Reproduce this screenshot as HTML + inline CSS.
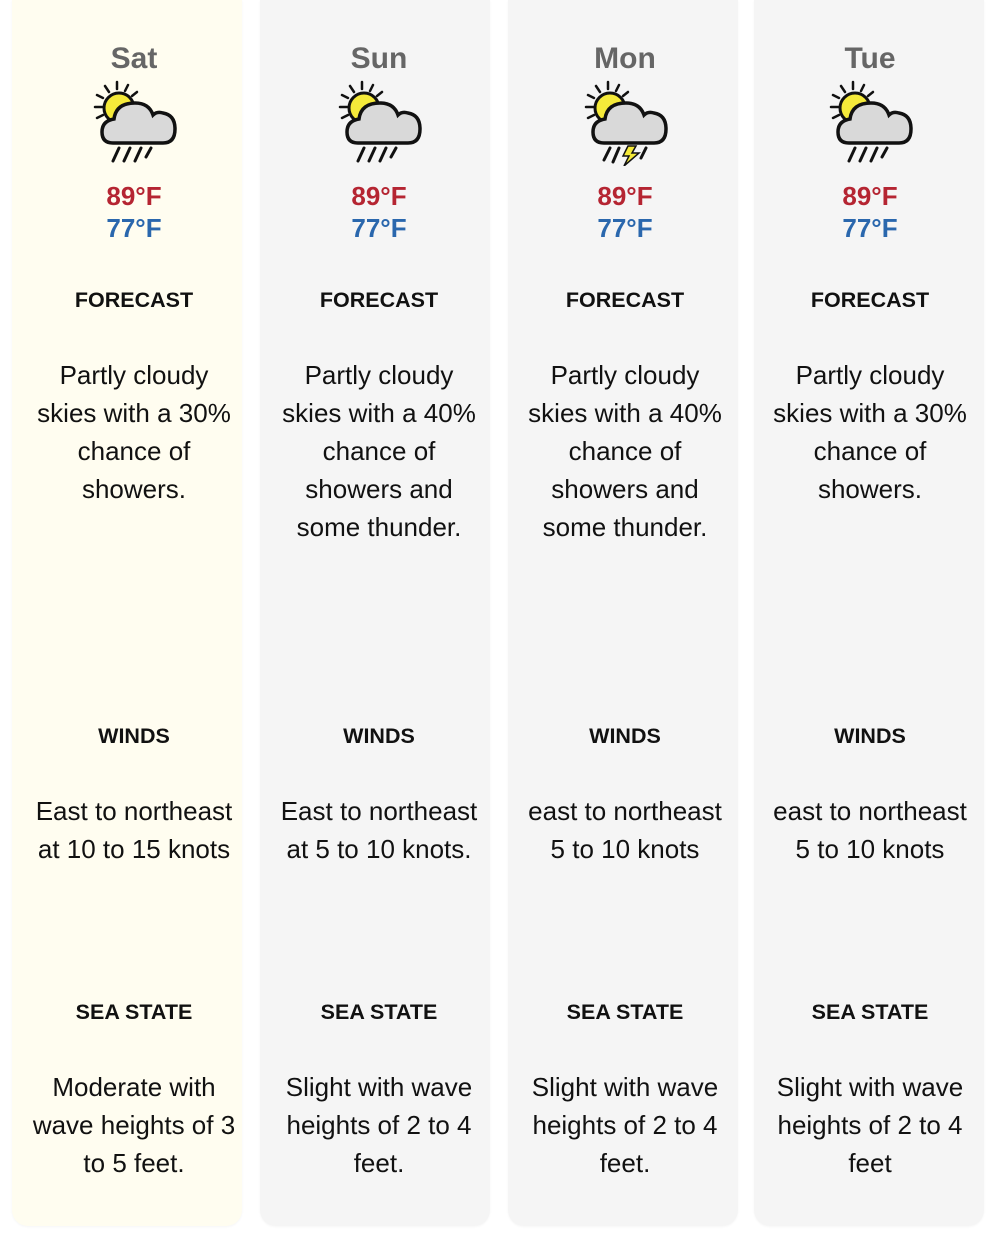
<!DOCTYPE html>
<html><head><meta charset="utf-8"><style>
*{margin:0;padding:0;box-sizing:border-box}
body{width:1008px;height:1254px;background:#fff;position:relative;overflow:hidden;font-family:"Liberation Sans",Arial,sans-serif;color:#111}
.col{position:absolute;top:0;width:230px;height:1226px;background:#f5f5f5;border-radius:0 0 16px 16px;box-shadow:0 1px 2px rgba(0,0,0,0.04)}
.col.hl{background:#fffdf0}
.t{position:absolute;left:var(--o);width:100%;text-align:center;white-space:nowrap}
.day{top:40px;font-size:30px;font-weight:bold;color:#666;line-height:38px}
.hi{top:181px;font-size:26px;font-weight:bold;color:#b52532;line-height:30px}
.lo{top:213px;font-size:26px;font-weight:bold;color:#2a67ad;line-height:30px}
.h{font-size:21.5px;font-weight:bold;line-height:24px}
.b{font-size:26px;line-height:38px}
.ic{position:absolute;left:calc(74px + var(--o));top:80px}
</style></head><body>
<svg width="0" height="0" style="position:absolute"><defs>
<g id="sun"><g stroke="#111" stroke-width="2.5" stroke-linecap="round">
<line x1="24" y1="2" x2="24" y2="9"/><line x1="12" y1="6" x2="16" y2="12"/><line x1="35" y1="5" x2="32" y2="11"/><line x1="4" y1="15" x2="10" y2="18"/><line x1="2" y1="27" x2="9" y2="27"/><line x1="4" y1="38" x2="10" y2="35"/><line x1="44" y1="12" x2="39" y2="16"/></g>
<circle cx="26" cy="28" r="15" fill="#f5ea3a" stroke="#111" stroke-width="3"/></g>
<g id="cloud"><path d="M20 63 Q9 63 9 52 Q9 41 21 39 Q23 23 42 23 Q56 23 60 35 Q64 31 70 33 Q82 35 82 49 Q82 63 70 63 Z" fill="#d9d9d9" stroke="#111" stroke-width="3.5"/></g>
</defs></svg>

<div class="col hl" style="left:12px;--o:7px">
<div class="t day">Sat</div>
<svg class="ic" width="92" height="84" viewBox="0 0 92 84"><use href="#sun"/><use href="#cloud"/><g stroke="#111" stroke-width="3" stroke-linecap="round"><line x1="26" y1="68" x2="20" y2="81"/><line x1="37" y1="68" x2="31" y2="81"/><line x1="48" y1="68" x2="42" y2="81"/><line x1="58" y1="68" x2="53" y2="77"/></g></svg>
<div class="t hi">89°F</div><div class="t lo">77°F</div>
<div class="t h" style="top:288px">FORECAST</div>
<div class="t b" style="top:356px">Partly cloudy<br>skies with a 30%<br>chance of<br>showers.</div>
<div class="t h" style="top:724px">WINDS</div>
<div class="t b" style="top:792px">East to northeast<br>at 10 to 15 knots</div>
<div class="t h" style="top:1000px">SEA STATE</div>
<div class="t b" style="top:1068px">Moderate with<br>wave heights of 3<br>to 5 feet.</div>
</div>

<div class="col" style="left:260px;--o:4px">
<div class="t day">Sun</div>
<svg class="ic" width="92" height="84" viewBox="0 0 92 84"><use href="#sun"/><use href="#cloud"/><g stroke="#111" stroke-width="3" stroke-linecap="round"><line x1="26" y1="68" x2="20" y2="81"/><line x1="37" y1="68" x2="31" y2="81"/><line x1="48" y1="68" x2="42" y2="81"/><line x1="58" y1="68" x2="53" y2="77"/></g></svg>
<div class="t hi">89°F</div><div class="t lo">77°F</div>
<div class="t h" style="top:288px">FORECAST</div>
<div class="t b" style="top:356px">Partly cloudy<br>skies with a 40%<br>chance of<br>showers and<br>some thunder.</div>
<div class="t h" style="top:724px">WINDS</div>
<div class="t b" style="top:792px">East to northeast<br>at 5 to 10 knots.</div>
<div class="t h" style="top:1000px">SEA STATE</div>
<div class="t b" style="top:1068px">Slight with wave<br>heights of 2 to 4<br>feet.</div>
</div>

<div class="col" style="left:508px;--o:2px">
<div class="t day">Mon</div>
<svg class="ic" width="92" height="86" viewBox="0 0 92 86"><use href="#sun"/><use href="#cloud"/><g stroke="#111" stroke-width="3" stroke-linecap="round"><line x1="26" y1="68" x2="20" y2="80"/><line x1="35" y1="68" x2="29" y2="82"/><line x1="62" y1="68" x2="57" y2="78"/></g><path d="M44 66 L52 66 L48 73 L55 73 L40 86 L45 76 L39 76 Z" fill="#f5ea3a" stroke="#111" stroke-width="1.5"/></svg>
<div class="t hi">89°F</div><div class="t lo">77°F</div>
<div class="t h" style="top:288px">FORECAST</div>
<div class="t b" style="top:356px">Partly cloudy<br>skies with a 40%<br>chance of<br>showers and<br>some thunder.</div>
<div class="t h" style="top:724px">WINDS</div>
<div class="t b" style="top:792px">east to northeast<br>5 to 10 knots</div>
<div class="t h" style="top:1000px">SEA STATE</div>
<div class="t b" style="top:1068px">Slight with wave<br>heights of 2 to 4<br>feet.</div>
</div>

<div class="col" style="left:754px;--o:1px">
<div class="t day">Tue</div>
<svg class="ic" width="92" height="84" viewBox="0 0 92 84"><use href="#sun"/><use href="#cloud"/><g stroke="#111" stroke-width="3" stroke-linecap="round"><line x1="26" y1="68" x2="20" y2="81"/><line x1="37" y1="68" x2="31" y2="81"/><line x1="48" y1="68" x2="42" y2="81"/><line x1="58" y1="68" x2="53" y2="77"/></g></svg>
<div class="t hi">89°F</div><div class="t lo">77°F</div>
<div class="t h" style="top:288px">FORECAST</div>
<div class="t b" style="top:356px">Partly cloudy<br>skies with a 30%<br>chance of<br>showers.</div>
<div class="t h" style="top:724px">WINDS</div>
<div class="t b" style="top:792px">east to northeast<br>5 to 10 knots</div>
<div class="t h" style="top:1000px">SEA STATE</div>
<div class="t b" style="top:1068px">Slight with wave<br>heights of 2 to 4<br>feet</div>
</div>
</body></html>
